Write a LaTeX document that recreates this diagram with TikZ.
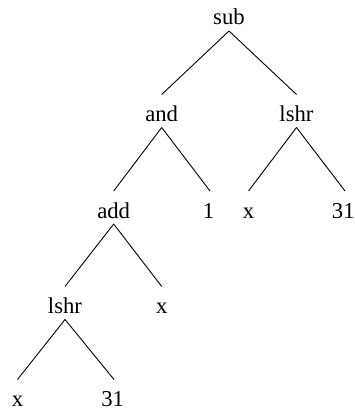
\documentclass[tikz,border=0pt]{standalone}
\usepackage{fontspec}
\setmainfont{Liberation Serif}
\begin{document}
\begin{tikzpicture}[x=1pt,y=-1pt,
  lbl/.style={anchor=base,inner sep=0pt,font=\fontsize{22.7}{27}\selectfont},
  edge/.style={line width=0.9pt,black}]
\useasboundingbox (0,0) rectangle (354,414);
\node[lbl] (sub) at (229,25) {sub};
\node[lbl] (and) at (161.7,121.5) {and};
\node[lbl] (lshrA) at (296.5,121.5) {lshr};
\node[lbl] (add) at (113.7,218) {add};
\node[lbl] (one) at (208.5,218) {1};
\node[lbl] (xA) at (248.5,218) {x};
\node[lbl] (tA) at (343.3,218) {31};
\node[lbl] (lshrB) at (65,313.5) {lshr};
\node[lbl] (xB) at (161.7,313.5) {x};
\node[lbl] (xC) at (17.5,406.5) {x};
\node[lbl] (tB) at (112.7,406.5) {31};
\foreach \p/\c/\dx in {sub/and/0,sub/lshrA/0,and/add/0,and/one/1.5,lshrA/xA/0,lshrA/tA/1.7,add/lshrB/0,add/xB/0,lshrB/xC/0,lshrB/tB/1.3}
  \draw[edge] ([yshift=-6pt]\p.base) -- ([yshift=27pt,xshift=\dx pt]\c.base);
\end{tikzpicture}
\end{document}
